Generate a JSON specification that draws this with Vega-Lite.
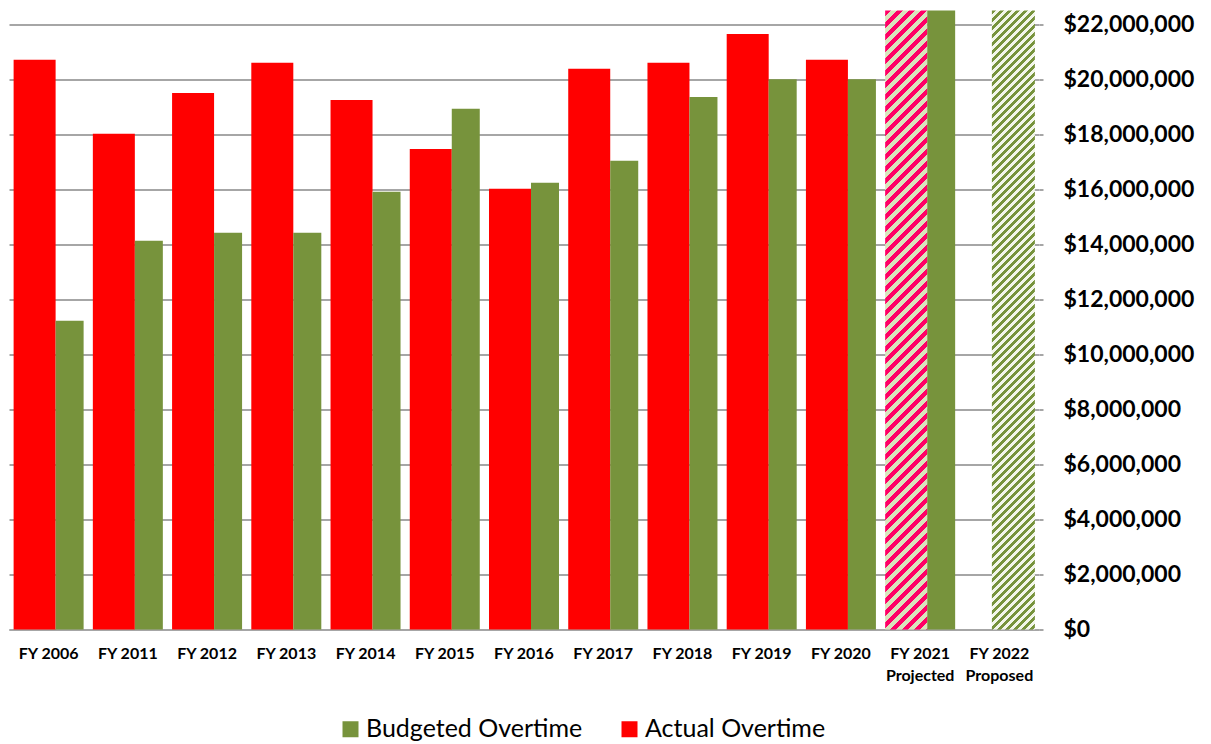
{
  "$schema": "https://vega.github.io/schema/vega-lite/v6.json",
  "width": 1030,
  "height": 619,
  "autosize": "none",
  "padding": {"left": 9, "top": 10.5, "right": 172, "bottom": 114.5},
  "background": "white",
  "data": {
    "values": [
      {"year": "FY 2006", "series": "Actual Overtime", "value": 20710000, "kind": "reported"},
      {"year": "FY 2006", "series": "Budgeted Overtime", "value": 11220000, "kind": "reported"},
      {"year": "FY 2011", "series": "Actual Overtime", "value": 18020000, "kind": "reported"},
      {"year": "FY 2011", "series": "Budgeted Overtime", "value": 14130000, "kind": "reported"},
      {"year": "FY 2012", "series": "Actual Overtime", "value": 19500000, "kind": "reported"},
      {"year": "FY 2012", "series": "Budgeted Overtime", "value": 14420000, "kind": "reported"},
      {"year": "FY 2013", "series": "Actual Overtime", "value": 20600000, "kind": "reported"},
      {"year": "FY 2013", "series": "Budgeted Overtime", "value": 14420000, "kind": "reported"},
      {"year": "FY 2014", "series": "Actual Overtime", "value": 19250000, "kind": "reported"},
      {"year": "FY 2014", "series": "Budgeted Overtime", "value": 15910000, "kind": "reported"},
      {"year": "FY 2015", "series": "Actual Overtime", "value": 17470000, "kind": "reported"},
      {"year": "FY 2015", "series": "Budgeted Overtime", "value": 18930000, "kind": "reported"},
      {"year": "FY 2016", "series": "Actual Overtime", "value": 16020000, "kind": "reported"},
      {"year": "FY 2016", "series": "Budgeted Overtime", "value": 16240000, "kind": "reported"},
      {"year": "FY 2017", "series": "Actual Overtime", "value": 20380000, "kind": "reported"},
      {"year": "FY 2017", "series": "Budgeted Overtime", "value": 17040000, "kind": "reported"},
      {"year": "FY 2018", "series": "Actual Overtime", "value": 20600000, "kind": "reported"},
      {"year": "FY 2018", "series": "Budgeted Overtime", "value": 19360000, "kind": "reported"},
      {"year": "FY 2019", "series": "Actual Overtime", "value": 21650000, "kind": "reported"},
      {"year": "FY 2019", "series": "Budgeted Overtime", "value": 20000000, "kind": "reported"},
      {"year": "FY 2020", "series": "Actual Overtime", "value": 20710000, "kind": "reported"},
      {"year": "FY 2020", "series": "Budgeted Overtime", "value": 20000000, "kind": "reported"},
      {"year": "FY 2021|Projected", "series": "Actual Overtime", "value": 22500000, "kind": "estimate"},
      {"year": "FY 2021|Projected", "series": "Budgeted Overtime", "value": 22500000, "kind": "reported"},
      {"year": "FY 2022|Proposed", "series": "Budgeted Overtime", "value": 22500000, "kind": "estimate"}
    ]
  },
  "encoding": {
    "x": {
      "field": "year",
      "type": "nominal",
      "scale": {
        "domain": ["FY 2006", "FY 2011", "FY 2012", "FY 2013", "FY 2014", "FY 2015", "FY 2016", "FY 2017", "FY 2018", "FY 2019", "FY 2020", "FY 2021|Projected", "FY 2022|Proposed"],
        "paddingInner": 0,
        "paddingOuter": 0
      },
      "axis": {
        "title": null,
        "labelExpr": "split(datum.label, '|')",
        "labelAngle": 0,
        "labelFont": "Lato",
        "labelFontWeight": "bold",
        "labelFontSize": 16,
        "labelColor": "#000000",
        "labelLineHeight": 22,
        "labelPadding": 16,
        "labelLimit": 0,
        "ticks": false,
        "domainColor": "#a6a6a6",
        "domainWidth": 2,
        "grid": false
      }
    },
    "y": {
      "field": "value",
      "type": "quantitative",
      "scale": {"domain": [0, 22500000], "nice": false, "zero": true},
      "axis": {
        "orient": "right",
        "title": null,
        "values": [0, 2000000, 4000000, 6000000, 8000000, 10000000, 12000000, 14000000, 16000000, 18000000, 20000000, 22000000],
        "format": "$,.0f",
        "labelFont": "Lato",
        "labelFontWeight": "bold",
        "labelFontSize": 23,
        "labelColor": "#000000",
        "labelPadding": 20,
        "labelLimit": 0,
        "tickSize": 4,
        "tickColor": "#a6a6a6",
        "tickWidth": 2,
        "domain": false,
        "grid": true,
        "gridColor": "#a6a6a6",
        "gridWidth": 2
      }
    }
  },
  "layer": [
    {
      "transform": [{"filter": "datum.series === 'Actual Overtime' && datum.kind === 'reported'"}],
      "mark": {"type": "bar", "width": 42, "xOffset": -14},
      "encoding": {
        "color": {
          "field": "series",
          "type": "nominal",
          "scale": {"domain": ["Budgeted Overtime", "Actual Overtime"], "range": ["#77933c", "#ff0000"]},
          "legend": {
            "title": null,
            "orient": "none",
            "legendX": 329,
            "legendY": 706,
            "direction": "horizontal",
            "symbolType": "square",
            "symbolSize": 256,
            "symbolStrokeWidth": 0,
            "labelFont": "Lato",
            "labelFontSize": 25,
            "labelColor": "#000000",
            "labelOffset": 3,
            "labelLimit": 0,
            "columnPadding": 34,
            "padding": 0
          }
        }
      }
    },
    {
      "transform": [{"filter": "datum.series === 'Budgeted Overtime' && datum.kind === 'reported'"}],
      "mark": {"type": "bar", "width": 28, "xOffset": 21},
      "encoding": {
        "color": {"field": "series", "type": "nominal"}
      }
    },
    {
      "transform": [{"filter": "datum.series === 'Actual Overtime' && datum.kind === 'estimate'"}],
      "mark": {
        "type": "bar",
        "width": 42,
        "xOffset": -14,
        "fill": {
          "gradient": "linear",
          "x1": 0, "y1": 0, "x2": 0.130935, "y2": 1.929727,
          "stops": [
{"offset":0,"color":"#ff0066"},{"offset":0.005,"color":"#ff0066"},{"offset":0.005,"color":"#d8e4bc"},{"offset":0.01,"color":"#d8e4bc"},
{"offset":0.01,"color":"#ff0066"},{"offset":0.015,"color":"#ff0066"},{"offset":0.015,"color":"#d8e4bc"},{"offset":0.02,"color":"#d8e4bc"},
{"offset":0.02,"color":"#ff0066"},{"offset":0.025,"color":"#ff0066"},{"offset":0.025,"color":"#d8e4bc"},{"offset":0.03,"color":"#d8e4bc"},
{"offset":0.03,"color":"#ff0066"},{"offset":0.035,"color":"#ff0066"},{"offset":0.035,"color":"#d8e4bc"},{"offset":0.04,"color":"#d8e4bc"},
{"offset":0.04,"color":"#ff0066"},{"offset":0.045,"color":"#ff0066"},{"offset":0.045,"color":"#d8e4bc"},{"offset":0.05,"color":"#d8e4bc"},
{"offset":0.05,"color":"#ff0066"},{"offset":0.055,"color":"#ff0066"},{"offset":0.055,"color":"#d8e4bc"},{"offset":0.06,"color":"#d8e4bc"},
{"offset":0.06,"color":"#ff0066"},{"offset":0.065,"color":"#ff0066"},{"offset":0.065,"color":"#d8e4bc"},{"offset":0.07,"color":"#d8e4bc"},
{"offset":0.07,"color":"#ff0066"},{"offset":0.075,"color":"#ff0066"},{"offset":0.075,"color":"#d8e4bc"},{"offset":0.08,"color":"#d8e4bc"},
{"offset":0.08,"color":"#ff0066"},{"offset":0.085,"color":"#ff0066"},{"offset":0.085,"color":"#d8e4bc"},{"offset":0.09,"color":"#d8e4bc"},
{"offset":0.09,"color":"#ff0066"},{"offset":0.095,"color":"#ff0066"},{"offset":0.095,"color":"#d8e4bc"},{"offset":0.10,"color":"#d8e4bc"},
{"offset":0.10,"color":"#ff0066"},{"offset":0.105,"color":"#ff0066"},{"offset":0.105,"color":"#d8e4bc"},{"offset":0.11,"color":"#d8e4bc"},
{"offset":0.11,"color":"#ff0066"},{"offset":0.115,"color":"#ff0066"},{"offset":0.115,"color":"#d8e4bc"},{"offset":0.12,"color":"#d8e4bc"},
{"offset":0.12,"color":"#ff0066"},{"offset":0.125,"color":"#ff0066"},{"offset":0.125,"color":"#d8e4bc"},{"offset":0.13,"color":"#d8e4bc"},
{"offset":0.13,"color":"#ff0066"},{"offset":0.135,"color":"#ff0066"},{"offset":0.135,"color":"#d8e4bc"},{"offset":0.14,"color":"#d8e4bc"},
{"offset":0.14,"color":"#ff0066"},{"offset":0.145,"color":"#ff0066"},{"offset":0.145,"color":"#d8e4bc"},{"offset":0.15,"color":"#d8e4bc"},
{"offset":0.15,"color":"#ff0066"},{"offset":0.155,"color":"#ff0066"},{"offset":0.155,"color":"#d8e4bc"},{"offset":0.16,"color":"#d8e4bc"},
{"offset":0.16,"color":"#ff0066"},{"offset":0.165,"color":"#ff0066"},{"offset":0.165,"color":"#d8e4bc"},{"offset":0.17,"color":"#d8e4bc"},
{"offset":0.17,"color":"#ff0066"},{"offset":0.175,"color":"#ff0066"},{"offset":0.175,"color":"#d8e4bc"},{"offset":0.18,"color":"#d8e4bc"},
{"offset":0.18,"color":"#ff0066"},{"offset":0.185,"color":"#ff0066"},{"offset":0.185,"color":"#d8e4bc"},{"offset":0.19,"color":"#d8e4bc"},
{"offset":0.19,"color":"#ff0066"},{"offset":0.195,"color":"#ff0066"},{"offset":0.195,"color":"#d8e4bc"},{"offset":0.20,"color":"#d8e4bc"},
{"offset":0.20,"color":"#ff0066"},{"offset":0.205,"color":"#ff0066"},{"offset":0.205,"color":"#d8e4bc"},{"offset":0.21,"color":"#d8e4bc"},
{"offset":0.21,"color":"#ff0066"},{"offset":0.215,"color":"#ff0066"},{"offset":0.215,"color":"#d8e4bc"},{"offset":0.22,"color":"#d8e4bc"},
{"offset":0.22,"color":"#ff0066"},{"offset":0.225,"color":"#ff0066"},{"offset":0.225,"color":"#d8e4bc"},{"offset":0.23,"color":"#d8e4bc"},
{"offset":0.23,"color":"#ff0066"},{"offset":0.235,"color":"#ff0066"},{"offset":0.235,"color":"#d8e4bc"},{"offset":0.24,"color":"#d8e4bc"},
{"offset":0.24,"color":"#ff0066"},{"offset":0.245,"color":"#ff0066"},{"offset":0.245,"color":"#d8e4bc"},{"offset":0.25,"color":"#d8e4bc"},
{"offset":0.25,"color":"#ff0066"},{"offset":0.255,"color":"#ff0066"},{"offset":0.255,"color":"#d8e4bc"},{"offset":0.26,"color":"#d8e4bc"},
{"offset":0.26,"color":"#ff0066"},{"offset":0.265,"color":"#ff0066"},{"offset":0.265,"color":"#d8e4bc"},{"offset":0.27,"color":"#d8e4bc"},
{"offset":0.27,"color":"#ff0066"},{"offset":0.275,"color":"#ff0066"},{"offset":0.275,"color":"#d8e4bc"},{"offset":0.28,"color":"#d8e4bc"},
{"offset":0.28,"color":"#ff0066"},{"offset":0.285,"color":"#ff0066"},{"offset":0.285,"color":"#d8e4bc"},{"offset":0.29,"color":"#d8e4bc"},
{"offset":0.29,"color":"#ff0066"},{"offset":0.295,"color":"#ff0066"},{"offset":0.295,"color":"#d8e4bc"},{"offset":0.30,"color":"#d8e4bc"},
{"offset":0.30,"color":"#ff0066"},{"offset":0.305,"color":"#ff0066"},{"offset":0.305,"color":"#d8e4bc"},{"offset":0.31,"color":"#d8e4bc"},
{"offset":0.31,"color":"#ff0066"},{"offset":0.315,"color":"#ff0066"},{"offset":0.315,"color":"#d8e4bc"},{"offset":0.32,"color":"#d8e4bc"},
{"offset":0.32,"color":"#ff0066"},{"offset":0.325,"color":"#ff0066"},{"offset":0.325,"color":"#d8e4bc"},{"offset":0.33,"color":"#d8e4bc"},
{"offset":0.33,"color":"#ff0066"},{"offset":0.335,"color":"#ff0066"},{"offset":0.335,"color":"#d8e4bc"},{"offset":0.34,"color":"#d8e4bc"},
{"offset":0.34,"color":"#ff0066"},{"offset":0.345,"color":"#ff0066"},{"offset":0.345,"color":"#d8e4bc"},{"offset":0.35,"color":"#d8e4bc"},
{"offset":0.35,"color":"#ff0066"},{"offset":0.355,"color":"#ff0066"},{"offset":0.355,"color":"#d8e4bc"},{"offset":0.36,"color":"#d8e4bc"},
{"offset":0.36,"color":"#ff0066"},{"offset":0.365,"color":"#ff0066"},{"offset":0.365,"color":"#d8e4bc"},{"offset":0.37,"color":"#d8e4bc"},
{"offset":0.37,"color":"#ff0066"},{"offset":0.375,"color":"#ff0066"},{"offset":0.375,"color":"#d8e4bc"},{"offset":0.38,"color":"#d8e4bc"},
{"offset":0.38,"color":"#ff0066"},{"offset":0.385,"color":"#ff0066"},{"offset":0.385,"color":"#d8e4bc"},{"offset":0.39,"color":"#d8e4bc"},
{"offset":0.39,"color":"#ff0066"},{"offset":0.395,"color":"#ff0066"},{"offset":0.395,"color":"#d8e4bc"},{"offset":0.40,"color":"#d8e4bc"},
{"offset":0.40,"color":"#ff0066"},{"offset":0.405,"color":"#ff0066"},{"offset":0.405,"color":"#d8e4bc"},{"offset":0.41,"color":"#d8e4bc"},
{"offset":0.41,"color":"#ff0066"},{"offset":0.415,"color":"#ff0066"},{"offset":0.415,"color":"#d8e4bc"},{"offset":0.42,"color":"#d8e4bc"},
{"offset":0.42,"color":"#ff0066"},{"offset":0.425,"color":"#ff0066"},{"offset":0.425,"color":"#d8e4bc"},{"offset":0.43,"color":"#d8e4bc"},
{"offset":0.43,"color":"#ff0066"},{"offset":0.435,"color":"#ff0066"},{"offset":0.435,"color":"#d8e4bc"},{"offset":0.44,"color":"#d8e4bc"},
{"offset":0.44,"color":"#ff0066"},{"offset":0.445,"color":"#ff0066"},{"offset":0.445,"color":"#d8e4bc"},{"offset":0.45,"color":"#d8e4bc"},
{"offset":0.45,"color":"#ff0066"},{"offset":0.455,"color":"#ff0066"},{"offset":0.455,"color":"#d8e4bc"},{"offset":0.46,"color":"#d8e4bc"},
{"offset":0.46,"color":"#ff0066"},{"offset":0.465,"color":"#ff0066"},{"offset":0.465,"color":"#d8e4bc"},{"offset":0.47,"color":"#d8e4bc"},
{"offset":0.47,"color":"#ff0066"},{"offset":0.475,"color":"#ff0066"},{"offset":0.475,"color":"#d8e4bc"},{"offset":0.48,"color":"#d8e4bc"},
{"offset":0.48,"color":"#ff0066"},{"offset":0.485,"color":"#ff0066"},{"offset":0.485,"color":"#d8e4bc"},{"offset":0.49,"color":"#d8e4bc"},
{"offset":0.49,"color":"#ff0066"},{"offset":0.495,"color":"#ff0066"},{"offset":0.495,"color":"#d8e4bc"},{"offset":0.50,"color":"#d8e4bc"},
{"offset":0.50,"color":"#ff0066"},{"offset":0.505,"color":"#ff0066"},{"offset":0.505,"color":"#d8e4bc"},{"offset":0.51,"color":"#d8e4bc"},
{"offset":0.51,"color":"#ff0066"},{"offset":0.515,"color":"#ff0066"},{"offset":0.515,"color":"#d8e4bc"},{"offset":0.52,"color":"#d8e4bc"},
{"offset":0.52,"color":"#ff0066"},{"offset":0.525,"color":"#ff0066"},{"offset":0.525,"color":"#d8e4bc"},{"offset":0.53,"color":"#d8e4bc"},
{"offset":0.53,"color":"#ff0066"},{"offset":0.535,"color":"#ff0066"},{"offset":0.535,"color":"#d8e4bc"},{"offset":0.54,"color":"#d8e4bc"},
{"offset":0.54,"color":"#ff0066"},{"offset":0.545,"color":"#ff0066"},{"offset":0.545,"color":"#d8e4bc"},{"offset":0.55,"color":"#d8e4bc"},
{"offset":0.55,"color":"#ff0066"},{"offset":0.555,"color":"#ff0066"},{"offset":0.555,"color":"#d8e4bc"},{"offset":0.56,"color":"#d8e4bc"},
{"offset":0.56,"color":"#ff0066"},{"offset":0.565,"color":"#ff0066"},{"offset":0.565,"color":"#d8e4bc"},{"offset":0.57,"color":"#d8e4bc"}
          ]
        }
      }
    },
    {
      "transform": [{"filter": "datum.series === 'Budgeted Overtime' && datum.kind === 'estimate'"}],
      "mark": {
        "type": "bar",
        "width": 43,
        "xOffset": 14,
        "fill": {
          "gradient": "linear",
          "x1": 0, "y1": 0, "x2": 0.0893484, "y2": 1.286202,
          "stops": [
{"offset":0,"color":"#77933c"},{"offset":0.005,"color":"#77933c"},{"offset":0.005,"color":"#f2f6ea"},{"offset":0.01,"color":"#f2f6ea"},
{"offset":0.01,"color":"#77933c"},{"offset":0.015,"color":"#77933c"},{"offset":0.015,"color":"#f2f6ea"},{"offset":0.02,"color":"#f2f6ea"},
{"offset":0.02,"color":"#77933c"},{"offset":0.025,"color":"#77933c"},{"offset":0.025,"color":"#f2f6ea"},{"offset":0.03,"color":"#f2f6ea"},
{"offset":0.03,"color":"#77933c"},{"offset":0.035,"color":"#77933c"},{"offset":0.035,"color":"#f2f6ea"},{"offset":0.04,"color":"#f2f6ea"},
{"offset":0.04,"color":"#77933c"},{"offset":0.045,"color":"#77933c"},{"offset":0.045,"color":"#f2f6ea"},{"offset":0.05,"color":"#f2f6ea"},
{"offset":0.05,"color":"#77933c"},{"offset":0.055,"color":"#77933c"},{"offset":0.055,"color":"#f2f6ea"},{"offset":0.06,"color":"#f2f6ea"},
{"offset":0.06,"color":"#77933c"},{"offset":0.065,"color":"#77933c"},{"offset":0.065,"color":"#f2f6ea"},{"offset":0.07,"color":"#f2f6ea"},
{"offset":0.07,"color":"#77933c"},{"offset":0.075,"color":"#77933c"},{"offset":0.075,"color":"#f2f6ea"},{"offset":0.08,"color":"#f2f6ea"},
{"offset":0.08,"color":"#77933c"},{"offset":0.085,"color":"#77933c"},{"offset":0.085,"color":"#f2f6ea"},{"offset":0.09,"color":"#f2f6ea"},
{"offset":0.09,"color":"#77933c"},{"offset":0.095,"color":"#77933c"},{"offset":0.095,"color":"#f2f6ea"},{"offset":0.10,"color":"#f2f6ea"},
{"offset":0.10,"color":"#77933c"},{"offset":0.105,"color":"#77933c"},{"offset":0.105,"color":"#f2f6ea"},{"offset":0.11,"color":"#f2f6ea"},
{"offset":0.11,"color":"#77933c"},{"offset":0.115,"color":"#77933c"},{"offset":0.115,"color":"#f2f6ea"},{"offset":0.12,"color":"#f2f6ea"},
{"offset":0.12,"color":"#77933c"},{"offset":0.125,"color":"#77933c"},{"offset":0.125,"color":"#f2f6ea"},{"offset":0.13,"color":"#f2f6ea"},
{"offset":0.13,"color":"#77933c"},{"offset":0.135,"color":"#77933c"},{"offset":0.135,"color":"#f2f6ea"},{"offset":0.14,"color":"#f2f6ea"},
{"offset":0.14,"color":"#77933c"},{"offset":0.145,"color":"#77933c"},{"offset":0.145,"color":"#f2f6ea"},{"offset":0.15,"color":"#f2f6ea"},
{"offset":0.15,"color":"#77933c"},{"offset":0.155,"color":"#77933c"},{"offset":0.155,"color":"#f2f6ea"},{"offset":0.16,"color":"#f2f6ea"},
{"offset":0.16,"color":"#77933c"},{"offset":0.165,"color":"#77933c"},{"offset":0.165,"color":"#f2f6ea"},{"offset":0.17,"color":"#f2f6ea"},
{"offset":0.17,"color":"#77933c"},{"offset":0.175,"color":"#77933c"},{"offset":0.175,"color":"#f2f6ea"},{"offset":0.18,"color":"#f2f6ea"},
{"offset":0.18,"color":"#77933c"},{"offset":0.185,"color":"#77933c"},{"offset":0.185,"color":"#f2f6ea"},{"offset":0.19,"color":"#f2f6ea"},
{"offset":0.19,"color":"#77933c"},{"offset":0.195,"color":"#77933c"},{"offset":0.195,"color":"#f2f6ea"},{"offset":0.20,"color":"#f2f6ea"},
{"offset":0.20,"color":"#77933c"},{"offset":0.205,"color":"#77933c"},{"offset":0.205,"color":"#f2f6ea"},{"offset":0.21,"color":"#f2f6ea"},
{"offset":0.21,"color":"#77933c"},{"offset":0.215,"color":"#77933c"},{"offset":0.215,"color":"#f2f6ea"},{"offset":0.22,"color":"#f2f6ea"},
{"offset":0.22,"color":"#77933c"},{"offset":0.225,"color":"#77933c"},{"offset":0.225,"color":"#f2f6ea"},{"offset":0.23,"color":"#f2f6ea"},
{"offset":0.23,"color":"#77933c"},{"offset":0.235,"color":"#77933c"},{"offset":0.235,"color":"#f2f6ea"},{"offset":0.24,"color":"#f2f6ea"},
{"offset":0.24,"color":"#77933c"},{"offset":0.245,"color":"#77933c"},{"offset":0.245,"color":"#f2f6ea"},{"offset":0.25,"color":"#f2f6ea"},
{"offset":0.25,"color":"#77933c"},{"offset":0.255,"color":"#77933c"},{"offset":0.255,"color":"#f2f6ea"},{"offset":0.26,"color":"#f2f6ea"},
{"offset":0.26,"color":"#77933c"},{"offset":0.265,"color":"#77933c"},{"offset":0.265,"color":"#f2f6ea"},{"offset":0.27,"color":"#f2f6ea"},
{"offset":0.27,"color":"#77933c"},{"offset":0.275,"color":"#77933c"},{"offset":0.275,"color":"#f2f6ea"},{"offset":0.28,"color":"#f2f6ea"},
{"offset":0.28,"color":"#77933c"},{"offset":0.285,"color":"#77933c"},{"offset":0.285,"color":"#f2f6ea"},{"offset":0.29,"color":"#f2f6ea"},
{"offset":0.29,"color":"#77933c"},{"offset":0.295,"color":"#77933c"},{"offset":0.295,"color":"#f2f6ea"},{"offset":0.30,"color":"#f2f6ea"},
{"offset":0.30,"color":"#77933c"},{"offset":0.305,"color":"#77933c"},{"offset":0.305,"color":"#f2f6ea"},{"offset":0.31,"color":"#f2f6ea"},
{"offset":0.31,"color":"#77933c"},{"offset":0.315,"color":"#77933c"},{"offset":0.315,"color":"#f2f6ea"},{"offset":0.32,"color":"#f2f6ea"},
{"offset":0.32,"color":"#77933c"},{"offset":0.325,"color":"#77933c"},{"offset":0.325,"color":"#f2f6ea"},{"offset":0.33,"color":"#f2f6ea"},
{"offset":0.33,"color":"#77933c"},{"offset":0.335,"color":"#77933c"},{"offset":0.335,"color":"#f2f6ea"},{"offset":0.34,"color":"#f2f6ea"},
{"offset":0.34,"color":"#77933c"},{"offset":0.345,"color":"#77933c"},{"offset":0.345,"color":"#f2f6ea"},{"offset":0.35,"color":"#f2f6ea"},
{"offset":0.35,"color":"#77933c"},{"offset":0.355,"color":"#77933c"},{"offset":0.355,"color":"#f2f6ea"},{"offset":0.36,"color":"#f2f6ea"},
{"offset":0.36,"color":"#77933c"},{"offset":0.365,"color":"#77933c"},{"offset":0.365,"color":"#f2f6ea"},{"offset":0.37,"color":"#f2f6ea"},
{"offset":0.37,"color":"#77933c"},{"offset":0.375,"color":"#77933c"},{"offset":0.375,"color":"#f2f6ea"},{"offset":0.38,"color":"#f2f6ea"},
{"offset":0.38,"color":"#77933c"},{"offset":0.385,"color":"#77933c"},{"offset":0.385,"color":"#f2f6ea"},{"offset":0.39,"color":"#f2f6ea"},
{"offset":0.39,"color":"#77933c"},{"offset":0.395,"color":"#77933c"},{"offset":0.395,"color":"#f2f6ea"},{"offset":0.40,"color":"#f2f6ea"},
{"offset":0.40,"color":"#77933c"},{"offset":0.405,"color":"#77933c"},{"offset":0.405,"color":"#f2f6ea"},{"offset":0.41,"color":"#f2f6ea"},
{"offset":0.41,"color":"#77933c"},{"offset":0.415,"color":"#77933c"},{"offset":0.415,"color":"#f2f6ea"},{"offset":0.42,"color":"#f2f6ea"},
{"offset":0.42,"color":"#77933c"},{"offset":0.425,"color":"#77933c"},{"offset":0.425,"color":"#f2f6ea"},{"offset":0.43,"color":"#f2f6ea"},
{"offset":0.43,"color":"#77933c"},{"offset":0.435,"color":"#77933c"},{"offset":0.435,"color":"#f2f6ea"},{"offset":0.44,"color":"#f2f6ea"},
{"offset":0.44,"color":"#77933c"},{"offset":0.445,"color":"#77933c"},{"offset":0.445,"color":"#f2f6ea"},{"offset":0.45,"color":"#f2f6ea"},
{"offset":0.45,"color":"#77933c"},{"offset":0.455,"color":"#77933c"},{"offset":0.455,"color":"#f2f6ea"},{"offset":0.46,"color":"#f2f6ea"},
{"offset":0.46,"color":"#77933c"},{"offset":0.465,"color":"#77933c"},{"offset":0.465,"color":"#f2f6ea"},{"offset":0.47,"color":"#f2f6ea"},
{"offset":0.47,"color":"#77933c"},{"offset":0.475,"color":"#77933c"},{"offset":0.475,"color":"#f2f6ea"},{"offset":0.48,"color":"#f2f6ea"},
{"offset":0.48,"color":"#77933c"},{"offset":0.485,"color":"#77933c"},{"offset":0.485,"color":"#f2f6ea"},{"offset":0.49,"color":"#f2f6ea"},
{"offset":0.49,"color":"#77933c"},{"offset":0.495,"color":"#77933c"},{"offset":0.495,"color":"#f2f6ea"},{"offset":0.50,"color":"#f2f6ea"},
{"offset":0.50,"color":"#77933c"},{"offset":0.505,"color":"#77933c"},{"offset":0.505,"color":"#f2f6ea"},{"offset":0.51,"color":"#f2f6ea"},
{"offset":0.51,"color":"#77933c"},{"offset":0.515,"color":"#77933c"},{"offset":0.515,"color":"#f2f6ea"},{"offset":0.52,"color":"#f2f6ea"},
{"offset":0.52,"color":"#77933c"},{"offset":0.525,"color":"#77933c"},{"offset":0.525,"color":"#f2f6ea"},{"offset":0.53,"color":"#f2f6ea"},
{"offset":0.53,"color":"#77933c"},{"offset":0.535,"color":"#77933c"},{"offset":0.535,"color":"#f2f6ea"},{"offset":0.54,"color":"#f2f6ea"},
{"offset":0.54,"color":"#77933c"},{"offset":0.545,"color":"#77933c"},{"offset":0.545,"color":"#f2f6ea"},{"offset":0.55,"color":"#f2f6ea"},
{"offset":0.55,"color":"#77933c"},{"offset":0.555,"color":"#77933c"},{"offset":0.555,"color":"#f2f6ea"},{"offset":0.56,"color":"#f2f6ea"},
{"offset":0.56,"color":"#77933c"},{"offset":0.565,"color":"#77933c"},{"offset":0.565,"color":"#f2f6ea"},{"offset":0.57,"color":"#f2f6ea"},
{"offset":0.57,"color":"#77933c"},{"offset":0.575,"color":"#77933c"},{"offset":0.575,"color":"#f2f6ea"},{"offset":0.58,"color":"#f2f6ea"},
{"offset":0.58,"color":"#77933c"},{"offset":0.585,"color":"#77933c"},{"offset":0.585,"color":"#f2f6ea"},{"offset":0.59,"color":"#f2f6ea"},
{"offset":0.59,"color":"#77933c"},{"offset":0.595,"color":"#77933c"},{"offset":0.595,"color":"#f2f6ea"},{"offset":0.60,"color":"#f2f6ea"},
{"offset":0.60,"color":"#77933c"},{"offset":0.605,"color":"#77933c"},{"offset":0.605,"color":"#f2f6ea"},{"offset":0.61,"color":"#f2f6ea"},
{"offset":0.61,"color":"#77933c"},{"offset":0.615,"color":"#77933c"},{"offset":0.615,"color":"#f2f6ea"},{"offset":0.62,"color":"#f2f6ea"},
{"offset":0.62,"color":"#77933c"},{"offset":0.625,"color":"#77933c"},{"offset":0.625,"color":"#f2f6ea"},{"offset":0.63,"color":"#f2f6ea"},
{"offset":0.63,"color":"#77933c"},{"offset":0.635,"color":"#77933c"},{"offset":0.635,"color":"#f2f6ea"},{"offset":0.64,"color":"#f2f6ea"},
{"offset":0.64,"color":"#77933c"},{"offset":0.645,"color":"#77933c"},{"offset":0.645,"color":"#f2f6ea"},{"offset":0.65,"color":"#f2f6ea"},
{"offset":0.65,"color":"#77933c"},{"offset":0.655,"color":"#77933c"},{"offset":0.655,"color":"#f2f6ea"},{"offset":0.66,"color":"#f2f6ea"},
{"offset":0.66,"color":"#77933c"},{"offset":0.665,"color":"#77933c"},{"offset":0.665,"color":"#f2f6ea"},{"offset":0.67,"color":"#f2f6ea"},
{"offset":0.67,"color":"#77933c"},{"offset":0.675,"color":"#77933c"},{"offset":0.675,"color":"#f2f6ea"},{"offset":0.68,"color":"#f2f6ea"},
{"offset":0.68,"color":"#77933c"},{"offset":0.685,"color":"#77933c"},{"offset":0.685,"color":"#f2f6ea"},{"offset":0.69,"color":"#f2f6ea"},
{"offset":0.69,"color":"#77933c"},{"offset":0.695,"color":"#77933c"},{"offset":0.695,"color":"#f2f6ea"},{"offset":0.70,"color":"#f2f6ea"},
{"offset":0.70,"color":"#77933c"},{"offset":0.705,"color":"#77933c"},{"offset":0.705,"color":"#f2f6ea"},{"offset":0.71,"color":"#f2f6ea"},
{"offset":0.71,"color":"#77933c"},{"offset":0.715,"color":"#77933c"},{"offset":0.715,"color":"#f2f6ea"},{"offset":0.72,"color":"#f2f6ea"},
{"offset":0.72,"color":"#77933c"},{"offset":0.725,"color":"#77933c"},{"offset":0.725,"color":"#f2f6ea"},{"offset":0.73,"color":"#f2f6ea"},
{"offset":0.73,"color":"#77933c"},{"offset":0.735,"color":"#77933c"},{"offset":0.735,"color":"#f2f6ea"},{"offset":0.74,"color":"#f2f6ea"},
{"offset":0.74,"color":"#77933c"},{"offset":0.745,"color":"#77933c"},{"offset":0.745,"color":"#f2f6ea"},{"offset":0.75,"color":"#f2f6ea"},
{"offset":0.75,"color":"#77933c"},{"offset":0.755,"color":"#77933c"},{"offset":0.755,"color":"#f2f6ea"},{"offset":0.76,"color":"#f2f6ea"},
{"offset":0.76,"color":"#77933c"},{"offset":0.765,"color":"#77933c"},{"offset":0.765,"color":"#f2f6ea"},{"offset":0.77,"color":"#f2f6ea"},
{"offset":0.77,"color":"#77933c"},{"offset":0.775,"color":"#77933c"},{"offset":0.775,"color":"#f2f6ea"},{"offset":0.78,"color":"#f2f6ea"},
{"offset":0.78,"color":"#77933c"},{"offset":0.785,"color":"#77933c"},{"offset":0.785,"color":"#f2f6ea"},{"offset":0.79,"color":"#f2f6ea"},
{"offset":0.79,"color":"#77933c"},{"offset":0.795,"color":"#77933c"},{"offset":0.795,"color":"#f2f6ea"},{"offset":0.80,"color":"#f2f6ea"},
{"offset":0.80,"color":"#77933c"},{"offset":0.805,"color":"#77933c"},{"offset":0.805,"color":"#f2f6ea"},{"offset":0.81,"color":"#f2f6ea"},
{"offset":0.81,"color":"#77933c"},{"offset":0.815,"color":"#77933c"},{"offset":0.815,"color":"#f2f6ea"},{"offset":0.82,"color":"#f2f6ea"},
{"offset":0.82,"color":"#77933c"},{"offset":0.825,"color":"#77933c"},{"offset":0.825,"color":"#f2f6ea"},{"offset":0.83,"color":"#f2f6ea"}
          ]
        }
      }
    }
  ],
  "config": {
    "view": {"stroke": null},
    "font": "Lato"
  }
}
